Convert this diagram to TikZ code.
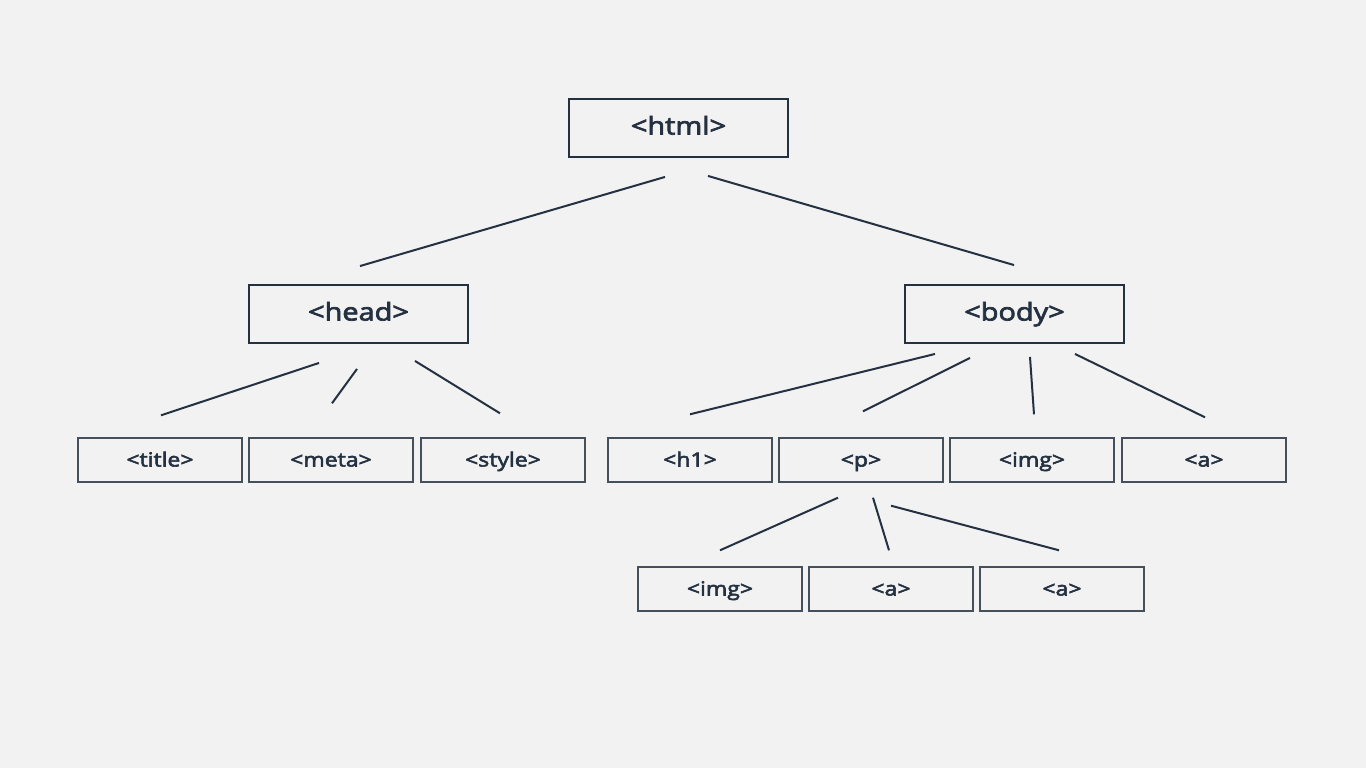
\documentclass[tikz,border=0pt]{standalone}
\usepackage{fontspec}
\setmainfont[AutoFakeBold=3,FakeStretch=1.18]{Open Sans}
\definecolor{bg}{HTML}{F2F2F3}
\definecolor{ink}{HTML}{243140}
\begin{document}
\begin{tikzpicture}[x=1pt,y=-1pt,
  bigbox/.style={draw=ink,line width=1.9pt,minimum width=219pt,minimum height=58pt,inner sep=0pt,text=ink,text height=19pt,text depth=6pt,font=\fontsize{24.5}{28}\selectfont\bfseries},
  leafbox/.style={draw=ink!85,line width=1.4pt,minimum width=164pt,minimum height=44pt,inner sep=0pt,text=ink,text height=15pt,text depth=2pt,font=\fontsize{19.5}{23}\selectfont\bfseries},
  link/.style={draw=ink,line width=2pt}]
\fill[bg] (0,0) rectangle (1366,768);
\useasboundingbox (0,0) rectangle (1366,768);
\node[bigbox] (html) at (678.5,128) {<html>};
\node[bigbox] (head) at (358.5,314) {<head>};
\node[bigbox] (body) at (1014.5,314) {<body>};
\node[leafbox] (title) at (160,460) {<title>};
\node[leafbox] (meta) at (331,460) {<meta>};
\node[leafbox] (style) at (503,460) {<style>};
\node[leafbox] (h1) at (690,460) {<h1>};
\node[leafbox] (p) at (861,460) {<p>};
\node[leafbox] (img) at (1032,460) {<img>};
\node[leafbox] (a) at (1204,460) {<a>};
\node[leafbox] (img2) at (720,589) {<img>};
\node[leafbox] (a2) at (891,589) {<a>};
\node[leafbox] (a3) at (1062,589) {<a>};
\draw[link] ([shift={(-13.5,19)}]html.south) -- ([shift={(1.5,-18)}]head.north);
\draw[link] ([shift={(29.5,18)}]html.south) -- ([shift={(-0.5,-19)}]body.north);
\draw[link] ([shift={(-39.5,19)}]head.south) -- ([shift={(1,-22)}]title.north);
\draw[link] ([shift={(-1.5,25)}]head.south) -- ([shift={(1,-34)}]meta.north);
\draw[link] ([shift={(56.5,17)}]head.south) -- ([shift={(-3,-24)}]style.north);
\draw[link] ([shift={(-79.5,10)}]body.south) -- ([shift={(0,-23)}]h1.north);
\draw[link] ([shift={(-44.5,14)}]body.south) -- ([shift={(2,-26)}]p.north);
\draw[link] ([shift={(15.5,13)}]body.south) -- ([shift={(2,-23)}]img.north);
\draw[link] ([shift={(60.5,10)}]body.south) -- ([shift={(1,-20)}]a.north);
\draw[link] ([shift={(-23,15)}]p.south) -- ([shift={(0,-16)}]img2.north);
\draw[link] ([shift={(12,15)}]p.south) -- ([shift={(-2,-16)}]a2.north);
\draw[link] ([shift={(30,23)}]p.south) -- ([shift={(-3,-16)}]a3.north);
\end{tikzpicture}
\end{document}
